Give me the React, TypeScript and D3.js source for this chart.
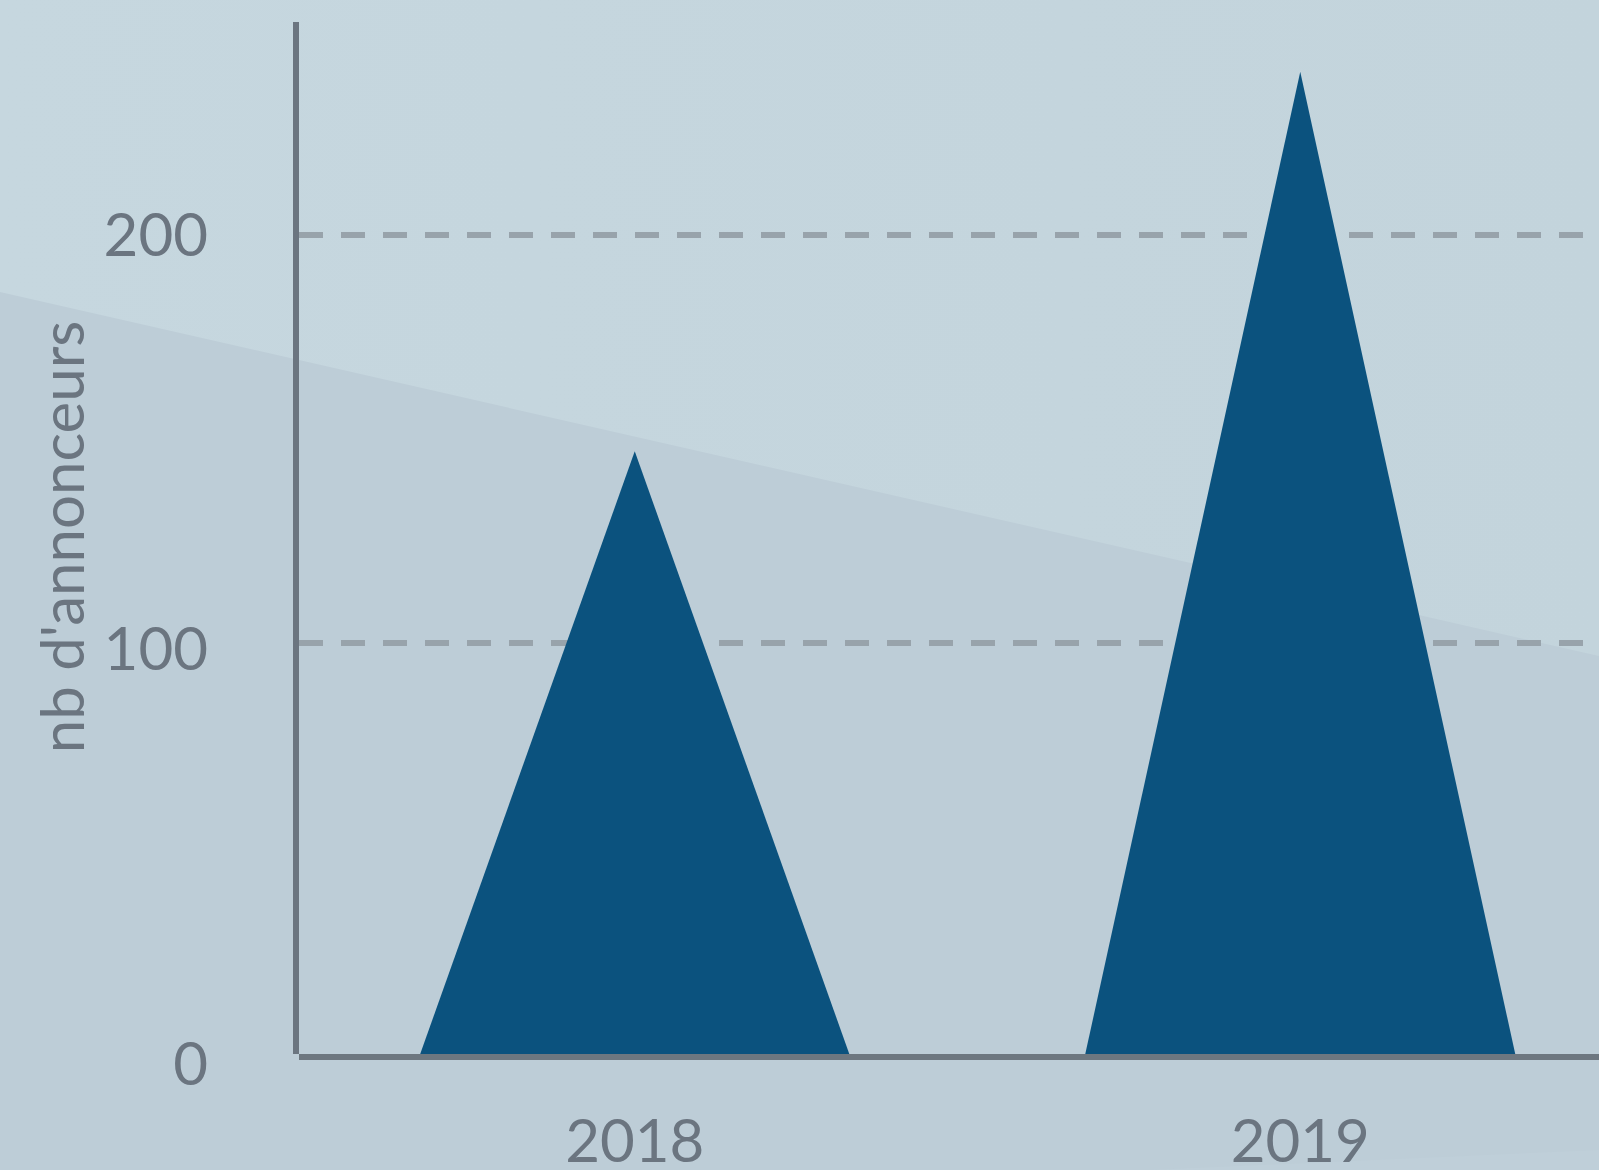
import { scaleBand, scaleLinear } from "d3";

// values
const YEARS = ["2018", "2019"];
const ANNONCEURS = [147, 240];
const Y_TICKS = [0, 100, 200];
const Y_TITLE = "nb d'annonceurs";

const WIDTH = 1599;
const HEIGHT = 1170;
const FONT = "Lato, 'Open Sans', sans-serif";
const INK = "#6b7580";
const FILL = "#0b527e";
const GRID = "#98a3ab";
const AXIS_W = 6;

export const App = () => {
  const xScale = scaleBand<string>()
    .domain(YEARS)
    .range([296, 1639])
    .paddingInner(0.352)
    .paddingOuter(0.185);

  const yScale = scaleLinear().domain([0, 200]).range([1051, 235]);
  // tick labels sit a little lower than their gridlines in the original
  const yLabel = scaleLinear().domain([0, 200]).range([1063, 234.5]);

  const x0 = 296;
  const yBase = yScale(0) + AXIS_W;

  const triangles = YEARS.map((year, i) => {
    const left = xScale(year) ?? 0;
    const bw = xScale.bandwidth();
    const d = `M${left},${yBase} L${left + bw / 2},${yScale(ANNONCEURS[i])} L${left + bw},${yBase} Z`;
    return <path key={year} d={d} fill={FILL} />;
  });

  const grid = Y_TICKS.filter((t) => t > 0).map((t) => (
    <line
      key={t}
      x1={x0 + AXIS_W / 2}
      x2={WIDTH}
      y1={yScale(t)}
      y2={yScale(t)}
      stroke={GRID}
      strokeWidth={AXIS_W}
      strokeDasharray="24 18"
    />
  ));

  const tickLabels = Y_TICKS.map((t) => (
    <text
      key={t}
      x={208}
      y={yLabel(t)}
      dy="0.36em"
      textAnchor="end"
      fontSize={60}
      fill={INK}
    >
      {t}
    </text>
  ));

  const yearLabels = YEARS.map((year) => (
    <text
      key={year}
      x={(xScale(year) ?? 0) + xScale.bandwidth() / 2}
      y={1162}
      textAnchor="middle"
      fontSize={60}
      fill={INK}
    >
      {year}
    </text>
  ));

  return (
    <svg
      width={WIDTH}
      height={HEIGHT}
      style={{ position: "absolute", left: 0, top: 0, display: "block" }}
      fontFamily={FONT}
    >
      <defs>
        <linearGradient id="bgTop" x1="0" y1="0" x2="1" y2="0">
          <stop offset="0" stopColor="#c6d7df" />
          <stop offset="1" stopColor="#c3d4dc" />
        </linearGradient>
      </defs>
      {/* background, two soft diagonal bands */}
      <rect width={WIDTH} height={HEIGHT} fill="#bdcdd7" />
      <path d={`M0,0 L${WIDTH},0 L${WIDTH},656 L0,292 Z`} fill="url(#bgTop)" />
      <path d={`M1150,${HEIGHT} L${WIDTH},1150 L${WIDTH},${HEIGHT} Z`} fill="#bfcfd9" />

      {grid}
      {triangles}

      {/* axes */}
      <line x1={x0} x2={x0} y1={22} y2={yBase - AXIS_W / 2} stroke={INK} strokeWidth={AXIS_W} />
      <line
        x1={x0 + AXIS_W / 2}
        x2={WIDTH}
        y1={yBase}
        y2={yBase}
        stroke="#6d7780"
        strokeWidth={AXIS_W}
      />

      {tickLabels}
      {yearLabels}

      <text
        transform={`translate(84,537) rotate(-90)`}
        textAnchor="middle"
        fontSize={60}
        fill={INK}
      >
        {Y_TITLE}
      </text>
    </svg>
  );
};

export default App;
